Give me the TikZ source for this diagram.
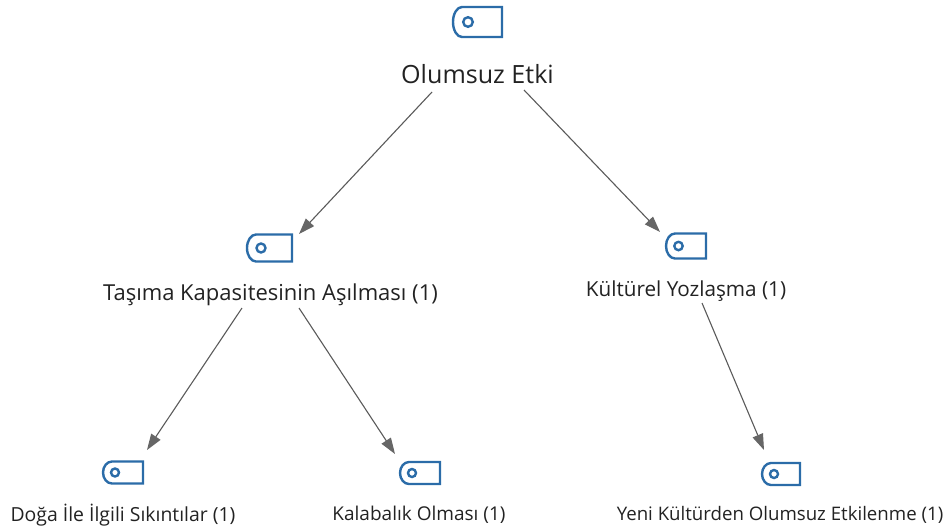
\documentclass[tikz,border=0pt]{standalone}
\usepackage{fontspec}
\setmainfont{Open Sans}
\usetikzlibrary{arrows.meta}
\definecolor{tagblue}{HTML}{2B6CA8}
\definecolor{linkgray}{HTML}{5A5A5A}
\definecolor{tipgray}{HTML}{666666}
\definecolor{labelink}{HTML}{222222}
\tikzset{
  x=1pt,y=-1pt,
  label big/.style={inner sep=0pt,text=labelink,font=\fontsize{25.1}{28}\selectfont},
  label mid/.style={inner sep=0pt,text=labelink,font=\fontsize{22}{24}\selectfont},
  label midb/.style={inner sep=0pt,text=labelink,font=\fontsize{20.7}{24}\selectfont},
  label small/.style={inner sep=0pt,text=labelink,font=\fontsize{19}{22}\selectfont},
  label smalla/.style={inner sep=0pt,text=labelink,font=\fontsize{19.4}{22}\selectfont},
  label smallc/.style={inner sep=0pt,text=labelink,font=\fontsize{18.65}{22}\selectfont},
  link/.style={draw=linkgray,line width=1.1pt,-{Triangle[length=16pt,width=11pt,fill=tipgray,color=tipgray]}},
  tagbox/.style={inner sep=0pt,outer sep=0pt,rectangle},
  tagline/.style={draw=tagblue,line width=2.4pt,line join=miter},
}
\newcommand{\tagicon}[7]{% name cx cy w h holeoffset holeradius
  \node[tagbox,minimum width=#4pt,minimum height=#5pt] (#1) at (#2,#3) {};
  \draw[tagline] (#1.north east) -- (#1.south east) -- ([xshift=9pt]#1.south west)
     arc[start angle=270,end angle=90,x radius=9pt,y radius=#5pt/2] -- cycle;
  \draw[tagline] ([xshift=#6pt]#1.west) circle[radius=#7pt];
}
\begin{document}
\begin{tikzpicture}
\useasboundingbox (0,0) rectangle (947,528);
\tagicon{iroot}{477.5}{22}{49}{30}{15}{4.8}
\tagicon{ileft}{269.5}{248}{45}{27}{14}{4.5}
\tagicon{iright}{686}{246}{40}{25}{12.5}{4.2}
\tagicon{ia}{123}{472.5}{40}{22}{12}{4}
\tagicon{ib}{420}{473}{40}{22}{12}{4}
\tagicon{ic}{781}{474}{38}{22}{12}{4}
\node[label big] (root) at (477.5,74.5) {Olumsuz Etki};
\node[label mid] (tleft) at (270.5,295) {Taşıma Kapasitesinin Aşılması (1)};
\node[label midb] (tright) at (686,291) {Kültürel Yozlaşma (1)};
\node[label smalla] (ta) at (123,515) {Doğa İle İlgili Sıkıntılar (1)};
\node[label small] (tb) at (419,515) {Kalabalık Olması (1)};
\node[label smallc] (tc) at (780,515) {Yeni Kültürden Olumsuz Etkilenme (1)};
\coordinate (rootL) at (432,92);
\coordinate (rootR) at (524,90);
\coordinate (leftL) at (242,308);
\coordinate (leftR) at (299,308);
\coordinate (rightS) at (702,303);
\coordinate (endL) at (299,234);
\coordinate (endR) at (660,232);
\coordinate (endA) at (147,450);
\coordinate (endB) at (395,454);
\coordinate (endC) at (764,450);
\draw[link] (rootL) -- (endL);
\draw[link] (rootR) -- (endR);
\draw[link] (leftL) -- (endA);
\draw[link] (leftR) -- (endB);
\draw[link] (rightS) -- (endC);
\end{tikzpicture}
\end{document}
